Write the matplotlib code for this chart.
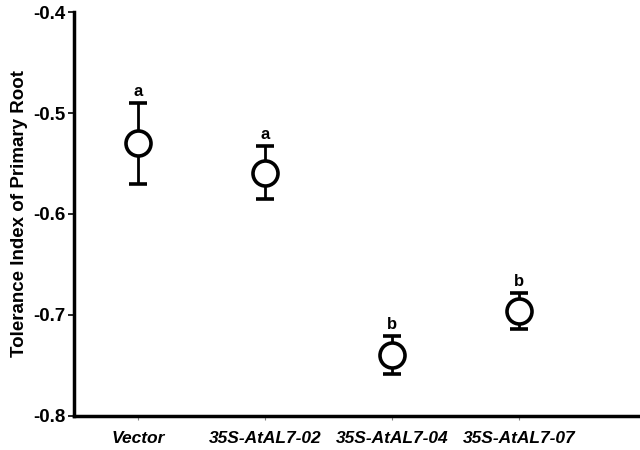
import matplotlib.pyplot as plt

plt.rcParams['font.family'] = ['Liberation Sans', 'DejaVu Sans']

# Données
groups = ["Vector", "35S-AtAL7-02", "35S-AtAL7-04", "35S-AtAL7-07"]
means = [-0.530, -0.559, -0.740, -0.696]
errors = [0.040, 0.026, 0.019, 0.018]
letters = ["a", "a", "b", "b"]

xpos = list(range(1, len(groups) + 1))

fig = plt.figure(figsize=(6.4, 4.5), dpi=100)
ax = fig.add_axes([0.116, 0.076, 0.884, 0.897])

ax.errorbar(xpos, means, yerr=errors, fmt='o', color='black', ecolor='black',
            elinewidth=2, capsize=6.5, capthick=2, markersize=18,
            markerfacecolor='white', markeredgecolor='black', markeredgewidth=2.6)

# Lettres de significativité au-dessus des barres
for x, m, e, lab in zip(xpos, means, errors, letters):
    ax.text(x, m + e + 0.004, lab, ha='center', va='bottom',
            fontsize=12, fontweight='bold')

ax.set_xlim(0.5, 4.95)
ax.set_ylim(-0.8, -0.4)
ax.set_yticks([-0.8, -0.7, -0.6, -0.5, -0.4])
ax.set_yticklabels(["-0.8", "-0.7", "-0.6", "-0.5", "-0.4"],
                   fontsize=13.5, fontweight='bold')
ax.set_xticks(xpos)
ax.set_xticklabels(groups, fontsize=12.5, fontweight='bold', style='italic')
ax.set_ylabel("Tolerance Index of Primary Root", fontsize=13.5,
              fontweight='bold', labelpad=4)

for s in ['top', 'right']:
    ax.spines[s].set_visible(False)
for s in ['left', 'bottom']:
    ax.spines[s].set_linewidth(2.5)

ax.tick_params(axis='y', length=4, width=1.2, pad=2)
ax.tick_params(axis='x', length=3, width=0.8, color='gray', pad=8)

fig.savefig("out.png", dpi=100)
